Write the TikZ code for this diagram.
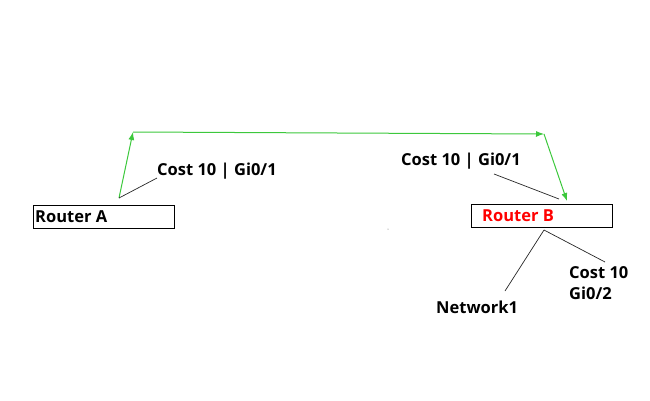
\documentclass[tikz,border=0pt]{standalone}
\usepackage{fontspec}
\setmainfont{Open Sans}
\usetikzlibrary{arrows.meta}
\definecolor{grn}{RGB}{60,200,60}
\begin{document}
\begin{tikzpicture}[x=1pt,y=-1pt,
  router/.style={draw=black,line width=1.4pt,minimum width=141pt,minimum height=23pt,inner sep=0pt,anchor=north west},
  lbl/.style={font=\bfseries\fontsize{16.5}{19}\selectfont,inner sep=0pt},
  gline/.style={draw=grn,line width=1pt,-{Latex[length=8pt,width=6pt]}},
  thin/.style={draw=black!85,line width=0.7pt}]
\useasboundingbox (0,0) rectangle (650,400);
% routers
\node[router] (ra) at (33,205) {};
\node[lbl,anchor=west] (ratxt) at (35,216.5) {Router A};
\node[router] (rb) at (471,204) {};
\node[lbl,anchor=west,text=red] (rbtxt) at (482,215.5) {Router B};
% green path
\coordinate (a1) at (119,198);
\coordinate (a2) at (133,132);
\coordinate (b2) at (544,134);
\coordinate (b1) at (567,201);
\draw[gline] (a1) -- (a2);
\draw[gline] (a2) -- (b2);
\draw[gline] (b2) -- (b1);
% labels
\node[lbl,anchor=west] (la) at (157,171) {Cost 10 | Gi0/1};
\node[lbl,anchor=west] (lb) at (401,161) {Cost 10 | Gi0/1};
\coordinate (la1) at (157,178);
\coordinate (lb1) at (494,174);
\coordinate (lb2) at (559,199);
\draw[thin] (a1) -- (la1);
\draw[thin] (lb1) -- (lb2);
% below router B
\coordinate (rbs) at (544,230);
\coordinate (n1) at (505,291);
\coordinate (c2) at (605,262);
\draw[thin] (rbs) -- (n1);
\draw[thin] (rbs) -- (c2);
\node[lbl,anchor=west] (net) at (436,307) {Network1};
\node[lbl,anchor=west,align=left] (cost2) at (569,283) {Cost 10\\[2pt]Gi0/2};
\fill[black!60] (388,229) circle (0.5pt);
\end{tikzpicture}
\end{document}
